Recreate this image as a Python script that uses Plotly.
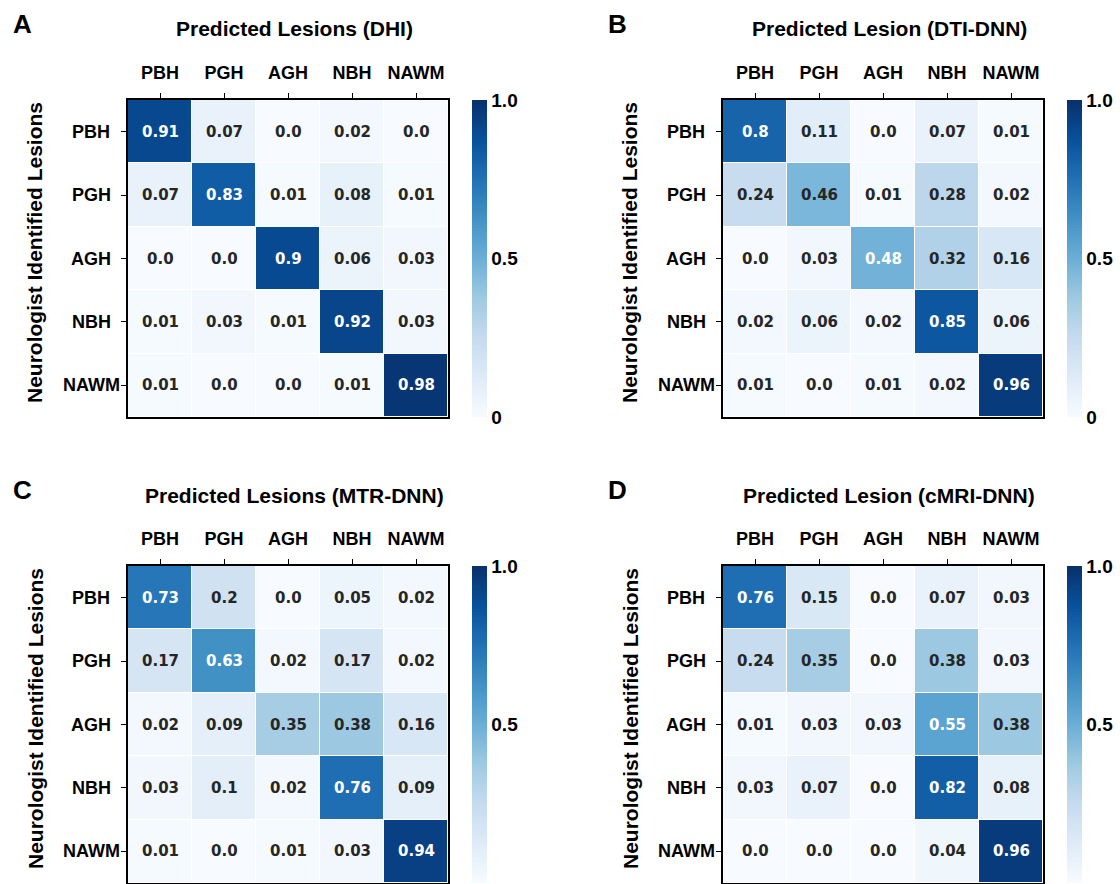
import plotly.graph_objects as go

# Lesion classes (rows: neurologist label, columns: model prediction)
classes = ["PBH", "PGH", "AGH", "NBH", "NAWM"]

# Normalised confusion matrices, one per model
dhi = [[0.91, 0.07, 0.0, 0.02, 0.0],
       [0.07, 0.83, 0.01, 0.08, 0.01],
       [0.0, 0.0, 0.9, 0.06, 0.03],
       [0.01, 0.03, 0.01, 0.92, 0.03],
       [0.01, 0.0, 0.0, 0.01, 0.98]]

dti_dnn = [[0.8, 0.11, 0.0, 0.07, 0.01],
           [0.24, 0.46, 0.01, 0.28, 0.02],
           [0.0, 0.03, 0.48, 0.32, 0.16],
           [0.02, 0.06, 0.02, 0.85, 0.06],
           [0.01, 0.0, 0.01, 0.02, 0.96]]

mtr_dnn = [[0.73, 0.2, 0.0, 0.05, 0.02],
           [0.17, 0.63, 0.02, 0.17, 0.02],
           [0.02, 0.09, 0.35, 0.38, 0.16],
           [0.03, 0.1, 0.02, 0.76, 0.09],
           [0.01, 0.0, 0.01, 0.03, 0.94]]

cmri_dnn = [[0.76, 0.15, 0.0, 0.07, 0.03],
            [0.24, 0.35, 0.0, 0.38, 0.03],
            [0.01, 0.03, 0.03, 0.55, 0.38],
            [0.03, 0.07, 0.0, 0.82, 0.08],
            [0.0, 0.0, 0.0, 0.04, 0.96]]

panel_letters = ["A", "B", "C", "D"]
panel_titles = ["Predicted Lesions (DHI)", "Predicted Lesion (DTI-DNN)",
                "Predicted Lesions (MTR-DNN)", "Predicted Lesion (cMRI-DNN)"]
row_axis_title = "Neurologist Identified Lesions"
cbar_tickvals = [0, 0.5, 1.0]
cbar_ticktext = ["0", "0.5", "1.0"]

matrices = [dhi, dti_dnn, mtr_dnn, cmri_dnn]

# ---- page geometry (pixels) ----
W, H = 1120, 884
BOX_W, BOX_H = 320, 317
lefts = [128, 723, 128, 723]
tops = [100, 100, 566, 566]


def fx(x):
    return x / W


def fy(y):
    return 1 - y / H


SANS = "Liberation Sans, Arial, sans-serif"
LABEL_FONT = dict(family=SANS, size=18, color="black", weight="bold")
CELL_FONT = "DejaVu Sans, sans-serif"
TEXT_DARK = "#262626"

fig = go.Figure()
annotations = []
layout_axes = {}


def paper_text(x, y, text, size, angle=0):
    return dict(x=fx(x), y=fy(y), xref="paper", yref="paper",
                xanchor="center", yanchor="middle",
                text=text, textangle=angle, showarrow=False,
                font=dict(family=SANS, size=size, color="black", weight="bold"))


for i, (mat, left, top) in enumerate(zip(matrices, lefts, tops)):
    n = i + 1
    sfx = "" if n == 1 else str(n)
    xref, yref = f"x{sfx}", f"y{sfx}"

    fig.add_trace(go.Heatmap(
        z=mat, x=classes, y=classes,
        colorscale="Blues", zmin=0, zmax=1,
        xgap=1, ygap=1,
        xaxis=xref, yaxis=yref,
        hoverinfo="skip",
        colorbar=dict(
            x=fx(left + 344), xanchor="left", xpad=0,
            y=fy(top), yanchor="top", ypad=0,
            len=BOX_H, lenmode="pixels",
            thickness=15, thicknessmode="pixels",
            outlinewidth=0, ticks="",
            tickvals=cbar_tickvals, ticktext=cbar_ticktext,
            tickfont=dict(family=SANS, size=19, color="black", weight="bold"),
        ),
    ))

    axis_common = dict(
        showline=True, mirror=True, linecolor="black", linewidth=1.8,
        ticks="outside", ticklen=5, tickwidth=1.2, tickcolor="black",
        showgrid=False, zeroline=False, fixedrange=True,
    )
    layout_axes[f"xaxis{sfx}"] = dict(
        axis_common,
        domain=[fx(left), fx(left + BOX_W)], anchor=yref, side="top",
        tickfont=LABEL_FONT, ticklabelstandoff=7,
    )
    layout_axes[f"yaxis{sfx}"] = dict(
        axis_common,
        domain=[fy(top + BOX_H), fy(top)], anchor=xref,
        autorange="reversed", showticklabels=False,
    )

    # value in every cell
    for r, row_name in enumerate(classes):
        for c, col_name in enumerate(classes):
            v = mat[r][c]
            annotations.append(dict(
                x=col_name, y=row_name, xref=xref, yref=yref,
                text=str(v), showarrow=False,
                font=dict(family=CELL_FONT, size=15, weight="bold",
                          color="white" if v > 0.47 else TEXT_DARK),
            ))

    # row labels, centred in the left margin
    for row_name in classes:
        annotations.append(dict(
            x=fx(left - 37), xref="paper", y=row_name, yref=yref,
            text=row_name, showarrow=False,
            xanchor="center", yanchor="middle",
            font=LABEL_FONT,
        ))

    # vertical axis title, panel title and panel letter
    annotations.append(paper_text(left - 93, top + 153, row_axis_title, 21, angle=-90))
    annotations.append(paper_text(left + 166, top - 71, panel_titles[i], 21))
    annotations.append(paper_text(left - 106, top - 76, panel_letters[i], 26))

fig.update_layout(
    width=W, height=H,
    margin=dict(l=0, r=0, t=0, b=0),
    paper_bgcolor="white", plot_bgcolor="white",
    showlegend=False,
    annotations=annotations,
    **layout_axes,
)

fig.write_html("out.html")
